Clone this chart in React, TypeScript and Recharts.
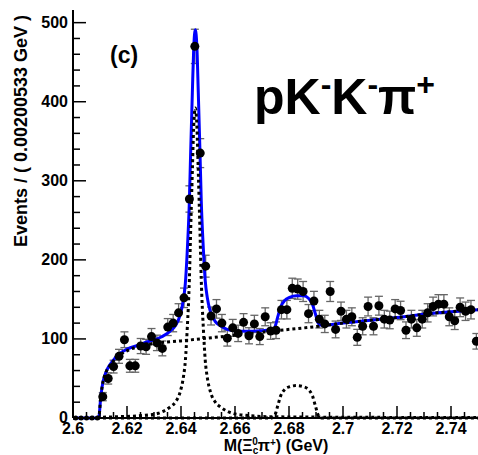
import React from 'react';
import { ComposedChart, Scatter, Line, XAxis, YAxis, ErrorBar } from 'recharts';

// binned data, M(Xi_c0 pi+) spectrum
const BIN_LOW = 2.6;
const BIN_WIDTH = 0.00200533;
const COUNTS = [
    0, 0, 0, 0, 0, 27, 50, 65, 78, 99,
    66, 66, 91, 90, 103, 95, 88, 115, 120, 133,
    152, 277, 470, 335, 192, 129, 138, 120, 101, 114,
    107, 121, 104, 119, 103, 128, 110, 111, 137, 137,
    164, 163, 160, 132, 148, 125, 119, 160, 112, 135,
    125, 128, 102, 116, 141, 116, 142, 125, 124, 138,
    136, 111, 125, 114, 125, 133, 141, 144, 144, 128,
    123, 140, 135, 137, 97,
];

// fit curves
const TOTAL_X = [
    2.6, 2.6095, 2.6103, 2.611, 2.6121, 2.6136, 2.6155, 2.6175, 2.62, 2.625,
    2.6268, 2.6316, 2.636, 2.6379, 2.6397, 2.6409, 2.6416, 2.6423, 2.6431, 2.6436,
    2.6442, 2.6447, 2.6453, 2.6459, 2.6464, 2.647, 2.6475, 2.6483, 2.649, 2.6497,
    2.6509, 2.6527, 2.6546, 2.659, 2.6638, 2.67, 2.6736, 2.6747, 2.6758, 2.6769,
    2.6784, 2.6802, 2.6828, 2.6854, 2.6872, 2.6887, 2.6898, 2.6909, 2.6921, 2.7,
    2.72, 2.735, 2.75,
];
const TOTAL_Y = [
    0, 0, 27, 44, 57, 67, 75.5, 82, 87, 93,
    95.5, 100.8, 110, 116.8, 130.4, 149.8, 170, 210, 274, 339,
    411, 467, 491, 468, 412, 340, 275, 212.5, 172.7, 153,
    134.4, 122, 116.7, 110.5, 109.7, 110.5, 111.5, 114.5, 127.5, 140.5,
    148.5, 152.5, 154.5, 154.5, 151.5, 143.5, 131.5, 119.5, 117.3, 120,
    127, 133, 137,
];

const BKG_X = [
    2.6, 2.6095, 2.6103, 2.611, 2.6121, 2.6136, 2.6155, 2.6175, 2.62, 2.625,
    2.632, 2.64, 2.647, 2.658, 2.674, 2.691, 2.7, 2.72, 2.735, 2.75,
];
const BKG_Y = [
    0, 0, 27, 44, 57, 66, 74, 80, 85, 91,
    95, 97.5, 100, 104, 110, 116, 120, 127, 133, 137,
];

const SIG_X = [
    2.6, 2.6157, 2.6268, 2.6316, 2.636, 2.6379, 2.6397, 2.6409, 2.6416, 2.6423,
    2.6431, 2.6436, 2.6442, 2.6447, 2.6453, 2.6459, 2.6464, 2.647, 2.6475, 2.6483,
    2.649, 2.6497, 2.6509, 2.6527, 2.6546, 2.659, 2.6638, 2.6749, 2.75,
];
const SIG_Y = [
    0.5, 1.5, 3.5, 6, 14, 20, 33, 52, 72, 112,
    175, 240, 312, 368, 392, 368, 312, 240, 175, 112,
    72, 52, 33, 20, 14, 6, 3.5, 1.5, 0.5,
];

const BUMP_X = [
    2.6, 2.6736, 2.6747, 2.6758, 2.6769, 2.6784, 2.6802, 2.6828, 2.6854, 2.6872,
    2.6887, 2.6898, 2.6909, 2.6921, 2.75,
];
const BUMP_Y = [
    0, 0, 3, 15, 28, 36, 39.5, 41, 39.5, 36,
    28, 15, 3, 0, 0,
];

const X_MAJOR = [2.6, 2.62, 2.64, 2.66, 2.68, 2.7, 2.72, 2.74];
const X_MINOR = [
    2.605, 2.61, 2.615, 2.625, 2.63, 2.635, 2.645, 2.65, 2.655, 2.665, 2.67,
    2.675, 2.685, 2.69, 2.695, 2.705, 2.71, 2.715, 2.725, 2.73, 2.735, 2.745,
];
const Y_MAJOR = [0, 100, 200, 300, 400, 500];
const Y_MINOR = [
    20, 40, 60, 80, 120, 140, 160, 180, 220, 240, 260, 280,
    320, 340, 360, 380, 420, 440, 460, 480,
];

const FONT = '"Liberation Sans", Arial, Helvetica, sans-serif';
const TICK_SIZE = 6;
const TICK_MARGIN = 2;

const points = COUNTS.map((n, i) => ({
    x: BIN_LOW + (i + 0.5) * BIN_WIDTH,
    y: n,
    err: Math.sqrt(n),
}));
const toXY = (xs: number[], ys: number[]) => xs.map((x, i) => ({ x, y: ys[i] }));
const totalData = toXY(TOTAL_X, TOTAL_Y);
const bkgData = toXY(BKG_X, BKG_Y);
const sigData = toXY(SIG_X, SIG_Y);
const bumpData = toXY(BUMP_X, BUMP_Y);

const xTicks = [...X_MAJOR, ...X_MINOR].sort((a, b) => a - b);
const yTicks = [...Y_MAJOR, ...Y_MINOR].sort((a, b) => a - b);

const XTick = (props: any) => {
    const { x, y, payload } = props;
    const v = payload.value;
    const major = X_MAJOR.some((m) => Math.abs(m - v) < 1e-6);
    const axisY = y - TICK_SIZE - TICK_MARGIN;
    return (
        <g>
            <line x1={x} x2={x} y1={axisY} y2={axisY - (major ? 12 : 6)} stroke="#000" strokeWidth={1.5} />
            {major && (
                <text x={x} y={axisY + 15.5} textAnchor="middle" fontSize={16} fontWeight="bold" fontFamily={FONT} fill="#000">
                    {String(Number(v.toFixed(3)))}
                </text>
            )}
        </g>
    );
};

const YTick = (props: any) => {
    const { x, y, payload } = props;
    const v = payload.value;
    const major = Y_MAJOR.includes(v);
    const axisX = x + TICK_SIZE + TICK_MARGIN;
    return (
        <g>
            <line x1={axisX} x2={axisX + (major ? 13 : 7)} y1={y} y2={y} stroke="#000" strokeWidth={1.5} />
            {major && (
                <text x={axisX - 5} y={y} dy="0.33em" textAnchor="end" fontSize={16} fontWeight="bold" fontFamily={FONT} fill="#000">
                    {v}
                </text>
            )}
        </g>
    );
};

const Dot = (props: any) => {
    const { cx, cy, payload } = props;
    return <circle cx={cx} cy={cy} r={payload.y === 0 ? 2.5 : 4.5} fill="#000" />;
};

export default function App() {
    return (
        <div style={{ position: 'absolute', left: 0, top: 0, width: 478, height: 455, background: '#fff' }}>
            <ComposedChart width={478} height={455} margin={{ top: 10, right: 0, bottom: 0, left: 0 }}>
                <XAxis
                    dataKey="x"
                    type="number"
                    domain={[2.6, 2.75]}
                    ticks={xTicks}
                    interval={0}
                    height={37}
                    tickSize={TICK_SIZE}
                    tickMargin={TICK_MARGIN}
                    tickLine={false}
                    tick={<XTick />}
                    axisLine={{ stroke: '#000', strokeWidth: 2 }}
                />
                <XAxis
                    xAxisId="top"
                    orientation="top"
                    dataKey="x"
                    type="number"
                    domain={[2.6, 2.75]}
                    height={0}
                    tick={false}
                    tickLine={false}
                    axisLine={{ stroke: '#000', strokeWidth: 2 }}
                />
                <YAxis
                    dataKey="y"
                    type="number"
                    domain={[0, 516]}
                    ticks={yTicks}
                    interval={0}
                    width={73}
                    tickSize={TICK_SIZE}
                    tickMargin={TICK_MARGIN}
                    tickLine={false}
                    tick={<YTick />}
                    axisLine={{ stroke: '#000', strokeWidth: 2 }}
                />
                <Scatter data={points} dataKey="y" shape={<Dot />} isAnimationActive={false}>
                    <ErrorBar dataKey="err" direction="y" width={4} stroke="#666" strokeWidth={1.3} />
                </Scatter>
                <Line data={totalData} dataKey="y" type="monotone" stroke="#0000ff" strokeWidth={3} dot={false} activeDot={false} isAnimationActive={false} />
                <Line data={bkgData} dataKey="y" type="monotone" stroke="#000" strokeWidth={3} strokeDasharray="3 3" dot={false} activeDot={false} isAnimationActive={false} />
                <Line data={sigData} dataKey="y" type="monotone" stroke="#000" strokeWidth={3} strokeDasharray="3 3" dot={false} activeDot={false} isAnimationActive={false} />
                <Line data={bumpData} dataKey="y" type="monotone" stroke="#000" strokeWidth={3} strokeDasharray="3 3" dot={false} activeDot={false} isAnimationActive={false} />
            </ComposedChart>
            <svg width={478} height={455} style={{ position: 'absolute', left: 0, top: 0, pointerEvents: 'none' }}>
                <text transform="translate(27,131) rotate(-90)" textAnchor="middle" fontSize={18} fontWeight="bold" fontFamily={FONT} fill="#000">
                    Events / ( 0.00200533 GeV )
                </text>
                <text x={276} y={451} textAnchor="middle" fontSize={16} fontWeight="bold" fontFamily={FONT} fill="#000">
                    M(Ξ
                    <tspan fontSize={10} dy={3}>c</tspan>
                    <tspan fontSize={10} dx={-6} dy={-9}>0</tspan>
                    <tspan dy={6}>π</tspan>
                    <tspan fontSize={10} dy={-5}>+</tspan>
                    <tspan dy={5}>) (GeV)</tspan>
                </text>
                <text x={110} y={63} fontSize={23} fontWeight="bold" fontFamily={FONT} fill="#000">(c)</text>
                <text x={254} y={114} fontSize={50} fontWeight="bold" fontFamily={FONT} fill="#000">
                    pK
                    <tspan fontSize={32} dy={-19}>-</tspan>
                    <tspan dy={19}>K</tspan>
                    <tspan fontSize={32} dy={-19}>-</tspan>
                    <tspan dy={19}>π</tspan>
                    <tspan fontSize={32} dy={-19}>+</tspan>
                </text>
            </svg>
        </div>
    );
}
